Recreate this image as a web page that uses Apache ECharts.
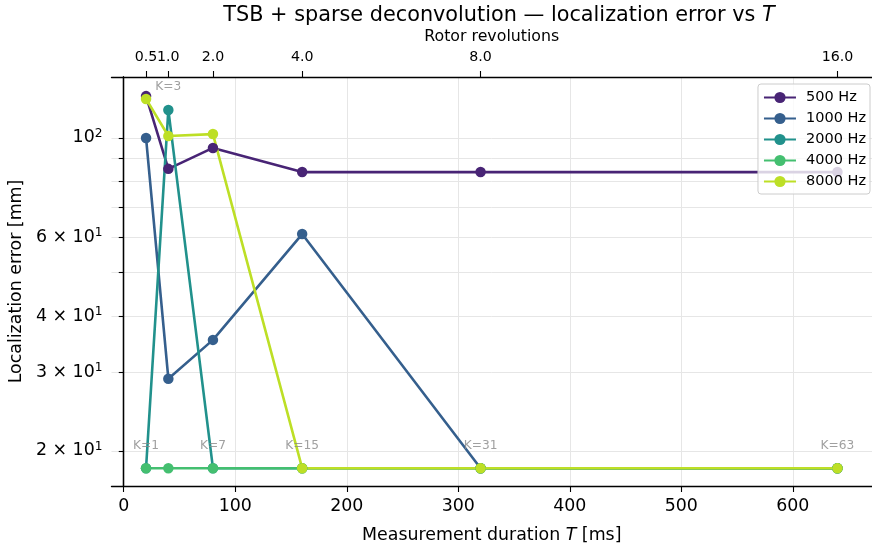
<!DOCTYPE html>
<html>
<head>
<meta charset="utf-8">
<script src="https://cdn.jsdelivr.net/npm/echarts@6/dist/echarts.min.js"></script>
<style>html,body{margin:0;padding:0;background:#fff}#c{width:872px;height:552px}</style>
</head>
<body>
<div id="c"></div>
<script>
// ---- data ----
var durations = [20, 40, 80, 160, 320, 640];           // T [ms]
var seriesNames = ['500 Hz', '1000 Hz', '2000 Hz', '4000 Hz', '8000 Hz'];
var err500  = [124, 85.3, 95.0, 83.9, 83.9, 83.9];
var err1000 = [100, 29.0, 35.4, 61.0, 18.3, 18.3];
var err2000 = [18.3, 115.5, 18.3, 18.3, 18.3, 18.3];
var err4000 = [18.3, 18.3, 18.3, 18.3, 18.3, 18.3];
var err8000 = [122.2, 101, 102, 18.3, 18.3, 18.3];
var kLabels = ['K=1', 'K=3', 'K=7', 'K=15', 'K=31', 'K=63'];
var kY = [20.55, 130, 20.55, 20.55, 20.55, 20.55];
var xTicks = [0, 100, 200, 300, 400, 500, 600];
var revTicks = [20, 40, 80, 160, 320, 640];            // T positions of rotor-revolution ticks (rev = T/40)
var yMinorTicks = [20, 30, 40, 50, 60, 70, 80, 90, 100];
var yLabelTicks = [20, 30, 40, 60, 100];

var colors = ['#482475', '#355f8d', '#21918c', '#44bf70', '#bddf26'];
var allErr = [err500, err1000, err2000, err4000, err8000];
var FONT = 'DejaVu Sans';

function pairs(xs, ys) { return xs.map(function (x, i) { return [x, ys[i]]; }); }

var series = allErr.map(function (ys, i) {
  return {
    name: seriesNames[i], type: 'line', xAxisIndex: 0, yAxisIndex: 0,
    data: pairs(durations, ys),
    symbol: 'circle', symbolSize: 10.5,
    lineStyle: { width: 2.6, color: colors[i] },
    itemStyle: { color: colors[i] },
    emphasis: { disabled: true }, animation: false
  };
});
series.push({
  type: 'scatter', xAxisIndex: 0, yAxisIndex: 0,
  data: durations.map(function (x, i) { return { value: [x, kY[i]], label: { formatter: kLabels[i] } }; }),
  symbolSize: 0, silent: true, animation: false, z: 5,
  label: { show: true, position: 'inside', color: '#888888', fontSize: 12.2, fontFamily: FONT }
});

function yFmt(v) {
  var r = Math.round(v);
  if (r === 100) return '{b|10}{s|2}';
  return '{b|' + Math.round(r / 10) + ' × 10}{s|1}';
}
function revFmt(v) { return (v / 40).toFixed(1); }

function topAxis(ticks, withName, showLine) {
  return {
    type: 'value', position: 'top', offset: 0, min: -11, max: 671,
    name: withName ? 'Rotor revolutions' : '', nameLocation: 'middle', nameGap: 32,
    nameTextStyle: { fontSize: 15.8, fontFamily: FONT, color: '#000' },
    axisLine: { show: showLine, onZero: false, lineStyle: { color: '#000', width: 1.3 } },
    axisTick: { show: true, inside: false, length: 6, customValues: ticks, lineStyle: { color: '#000', width: 1.1 } },
    axisLabel: { show: true, customValues: ticks, margin: 13, fontSize: 14.2, color: '#000', fontFamily: FONT,
      hideOverlap: false, formatter: revFmt },
    splitLine: { show: false }
  };
}

var option = {
  animation: false,
  textStyle: { fontFamily: FONT },
  title: {
    text: '{a|TSB + sparse deconvolution — localization error vs }{i|T}',
    left: 494, top: 0, textAlign: 'center',
    textStyle: { fontWeight: 'normal', rich: {
      a: { fontSize: 20.8, fontFamily: FONT, color: '#000', fontWeight: 'normal' },
      i: { fontSize: 20.8, fontFamily: FONT, color: '#000', fontWeight: 'normal', fontStyle: 'italic' } } }
  },
  legend: {
    data: seriesNames, orient: 'vertical', right: 2, top: 84, z: 50, zlevel: 1,
    itemWidth: 32, itemHeight: 14, itemGap: 6, padding: [6, 4, 5, 5],
    backgroundColor: 'rgba(255,255,255,0.8)', borderColor: '#cccccc', borderWidth: 1, borderRadius: 3,
    textStyle: { fontSize: 14.5, lineHeight: 14, fontFamily: FONT, color: '#000', padding: [0, 0, 0, 5] }
  },
  grid: { left: 111, top: 77, width: 767, height: 409, containLabel: false },
  xAxis: [{
    type: 'value', position: 'bottom', min: -11, max: 671,
    name: '{a|Measurement duration }{i|T}{a| [ms]}', nameLocation: 'middle', nameGap: 41,
    nameTextStyle: { rich: {
      a: { fontSize: 17.4, fontFamily: FONT, color: '#000' },
      i: { fontSize: 17.4, fontFamily: FONT, color: '#000', fontStyle: 'italic' } } },
    axisLine: { show: true, onZero: false, lineStyle: { color: '#000', width: 1.3 } },
    axisTick: { show: true, inside: false, length: 6, customValues: xTicks, lineStyle: { color: '#000', width: 1.1 } },
    axisLabel: { show: true, customValues: xTicks, margin: 12, fontSize: 17.4, color: '#000', fontFamily: FONT },
    splitLine: { show: true, lineStyle: { color: '#e6e6e6', width: 1 } }
  },
    topAxis(revTicks.slice(1), true, true),
    topAxis(revTicks.slice(0, 1), false, false)
  ],
  yAxis: [{
    type: 'log', logBase: 10, min: 16.7, max: 136.8,
    name: 'Localization error [mm]', nameLocation: 'middle', nameGap: 79, nameRotate: 90,
    nameTextStyle: { fontSize: 17.4, fontFamily: FONT, color: '#000' },
    axisLine: { show: true, lineStyle: { color: '#000', width: 1.3 } },
    axisTick: { show: true, inside: false, length: 5, customValues: yMinorTicks, lineStyle: { color: '#000', width: 1.1 } },
    axisLabel: { show: true, customValues: yLabelTicks, margin: 9, formatter: yFmt,
      rich: {
        b: { fontSize: 17.4, fontFamily: FONT, color: '#000' },
        s: { fontSize: 12.2, fontFamily: FONT, color: '#000', verticalAlign: 'top', padding: [0, 0, 8, 0] }
      } },
    splitLine: { show: true, lineStyle: { color: '#e6e6e6', width: 1 } }
  }, {
    type: 'log', position: 'right', min: 16.7, max: 136.8,
    axisLine: { show: true, lineStyle: { color: '#000', width: 1.3 } },
    axisTick: { show: false }, axisLabel: { show: false }, splitLine: { show: false }
  }],
  series: series
};
var chart = echarts.init(document.getElementById('c'), null, { renderer: 'canvas' });
chart.setOption(option);
</script>
</body>
</html>
